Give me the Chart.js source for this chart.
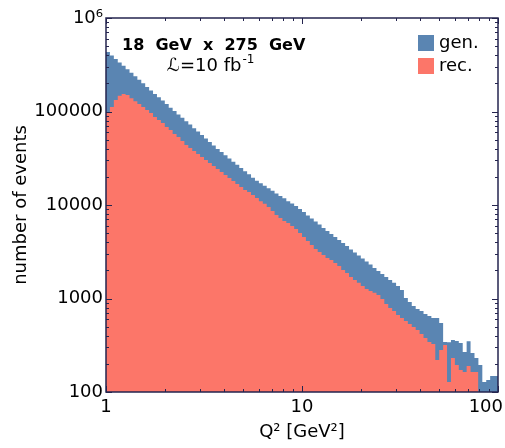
<!DOCTYPE html>
<html>
<head>
<meta charset="utf-8">
<script src="https://cdn.jsdelivr.net/npm/chart.js@4.4.0/dist/chart.umd.min.js"></script>
<style>
  body { margin: 0; background: #fff; }
  #chart { display: block; }
</style>
</head>
<body>
<canvas id="chart" width="505" height="448"></canvas>
<script>
'use strict';

// Q^2 histogram: 100 log-spaced bins between 1 and 100 GeV^2
var binMin = 1;
var binMax = 100;
var nBins = 100;

var genCounts = [
  472000, 434000, 398000, 365000, 335000, 308000, 283000, 259000, 238000, 218000,
  200000, 183000, 168000, 154000, 142000, 131000, 120000, 110000, 101000, 93100,
  85500, 78500, 72400, 66200, 61000, 56000, 51300, 47200, 43300, 39800,
  36800, 34000, 31500, 29100, 26900, 24900, 23000, 21300, 19600, 18200,
  17100, 16100, 15100, 14200, 13300, 12500, 11800, 11000, 10400, 9750,
  9060, 8410, 7720, 7180, 6660, 6180, 5680, 5270, 4900, 4550,
  4220, 3920, 3640, 3340, 3100, 2880, 2680, 2490, 2310, 2120,
  1970, 1830, 1700, 1580, 1470, 1360, 1230, 1010, 918, 831,
  773, 735, 682, 650, 618, 620, 547, 343, 340, 360,
  351, 334, 268, 350, 261, 231, 194, 128, 134, 148
];

var recCounts = [
  85100, 96400, 112000, 133000, 147000, 154000, 150000, 139000, 129000, 120000,
  112000, 104000, 96400, 87300, 81100, 75300, 68200, 63400, 57400, 53300,
  48300, 43900, 40700, 37800, 35100, 32600, 30300, 28100, 26100, 24300,
  22500, 20900, 19500, 18100, 16800, 15600, 14500, 13800, 12800, 11900,
  11000, 10300, 9520, 8630, 7820, 7260, 6750, 6420, 5960, 5530,
  5020, 4550, 4120, 3730, 3380, 3140, 2920, 2710, 2580, 2400,
  2230, 2020, 1870, 1700, 1580, 1470, 1360, 1260, 1200, 1150,
  1090, 988, 873, 791, 735, 666, 618, 574, 534, 495,
  460, 417, 378, 343, 326, 220, 281, 318, 128, 231,
  194, 172, 164, 190, 164
];

var xTickValues = [1, 10, 100];
var xTickLabels = ['1', '10', '100'];
var yTickValues = [100, 1000, 10000, 100000, 1000000];
var yTickLabels = ['100', '1000', '10000', '100000', '10\u2076'];

var genColor = '#5a85b2';
var recColor = '#fc7669';
var axisColor = '#25254f';
var fontFamily = '"DejaVu Sans", sans-serif';

function binEdge(i) {
  return binMin * Math.pow(binMax / binMin, i / nBins);
}

function stepPoints(counts) {
  var pts = [];
  for (var i = 0; i < counts.length; i++) {
    pts.push({x: binEdge(i), y: counts[i]});
  }
  pts.push({x: binEdge(counts.length), y: counts[counts.length - 1]});
  return pts;
}

// 1..9 x 10^n between lo and hi, for the small tick marks
function logTicks(lo, hi) {
  var t = [];
  for (var p = lo; p < hi; p *= 10) {
    for (var d = 1; d < 10; d++) {
      t.push(p * d);
    }
  }
  t.push(hi);
  return t;
}

var framePlugin = {
  id: 'frame',
  afterDatasetsDraw: function(chart) {
    var ctx = chart.ctx;
    var a = chart.chartArea;
    var xs = chart.scales.x;
    var ys = chart.scales.y;

    ctx.save();
    ctx.strokeStyle = axisColor;
    ctx.lineWidth = 1;
    ctx.beginPath();
    logTicks(binMin, binMax).forEach(function(v) {
      var len = xTickValues.indexOf(v) >= 0 ? 6 : 3;
      var px = Math.round(xs.getPixelForValue(v)) + 0.5;
      ctx.moveTo(px, a.bottom);
      ctx.lineTo(px, a.bottom - len);
      ctx.moveTo(px, a.top);
      ctx.lineTo(px, a.top + len);
    });
    logTicks(100, 1000000).forEach(function(v) {
      var len = yTickValues.indexOf(v) >= 0 ? 6 : 3;
      var py = Math.round(ys.getPixelForValue(v)) + 0.5;
      ctx.moveTo(a.left, py);
      ctx.lineTo(a.left + len, py);
      ctx.moveTo(a.right, py);
      ctx.lineTo(a.right - len, py);
    });
    ctx.stroke();

    ctx.lineWidth = 1.5;
    ctx.strokeRect(a.left, a.top, a.right - a.left, a.bottom - a.top);
    ctx.restore();
  },
  afterDraw: function(chart) {
    var ctx = chart.ctx;
    var xs = chart.scales.x;
    var w = chart.width;

    ctx.save();
    ctx.fillStyle = '#000';
    ctx.textBaseline = 'middle';
    ctx.textAlign = 'center';
    ctx.font = '18px ' + fontFamily;
    // x tick labels, kept inside the canvas
    for (var i = 0; i < xTickValues.length; i++) {
      var tw = ctx.measureText(xTickLabels[i]).width;
      var px = Math.min(xs.getPixelForValue(xTickValues[i]), w - 2 - tw / 2);
      ctx.fillText(xTickLabels[i], px, 407);
    }

    // beam energies and luminosity
    ctx.textAlign = 'left';
    ctx.textBaseline = 'alphabetic';
    ctx.font = 'bold 16px ' + fontFamily;
    ctx.fillText('18  GeV  x  275  GeV', 122, 50);
    ctx.font = '18px ' + fontFamily;
    var lumi = '\u2112=10 fb';
    ctx.fillText(lumi, 167, 71);
    var lw = ctx.measureText(lumi).width;
    ctx.font = '12px ' + fontFamily;
    ctx.fillText('-1', 167 + lw + 1, 63);

    // legend
    ctx.font = '18px ' + fontFamily;
    ctx.textBaseline = 'middle';
    ctx.fillStyle = genColor;
    ctx.fillRect(418, 35, 16, 16);
    ctx.fillStyle = recColor;
    ctx.fillRect(418, 58, 16, 16);
    ctx.fillStyle = '#000';
    ctx.fillText('gen.', 439, 43);
    ctx.fillText('rec.', 439, 66);
    ctx.restore();
  }
};

var ctx = document.getElementById('chart').getContext('2d');

var chart = new Chart(ctx, {
  type: 'line',
  data: {
    datasets: [
      {
        label: 'rec.',
        data: stepPoints(recCounts),
        stepped: 'after',
        fill: 'start',
        backgroundColor: recColor,
        borderColor: 'transparent',
        borderWidth: 0,
        pointRadius: 0,
        order: 0
      },
      {
        label: 'gen.',
        data: stepPoints(genCounts),
        stepped: 'after',
        fill: 'start',
        backgroundColor: genColor,
        borderColor: 'transparent',
        borderWidth: 0,
        pointRadius: 0,
        order: 1
      }
    ]
  },
  options: {
    responsive: false,
    animation: false,
    layout: {
      padding: {left: 0, top: 18, right: 7, bottom: 0},
      autoPadding: false
    },
    plugins: {
      legend: {display: false},
      tooltip: {enabled: false}
    },
    scales: {
      x: {
        type: 'logarithmic',
        min: binMin,
        max: binMax,
        grid: {display: false, drawTicks: false},
        border: {display: false},
        ticks: {display: false},
        title: {
          display: true,
          text: 'Q\u00b2 [GeV\u00b2]',
          color: '#000',
          font: {family: fontFamily, size: 18},
          padding: {top: 0, bottom: 5}
        },
        afterFit: function(scale) {
          scale.height = 56;
        }
      },
      y: {
        type: 'logarithmic',
        min: 100,
        max: 1000000,
        grid: {display: false, drawTicks: false},
        border: {display: false},
        ticks: {
          color: '#000',
          font: {family: fontFamily, size: 18},
          padding: 3,
          callback: function(value) {
            var i = yTickValues.indexOf(value);
            return i >= 0 ? yTickLabels[i] : '';
          }
        },
        afterBuildTicks: function(scale) {
          scale.ticks = yTickValues.map(function(v) { return {value: v}; });
        },
        title: {
          display: true,
          text: 'number of events',
          color: '#000',
          font: {family: fontFamily, size: 18},
          padding: {top: 11, bottom: 0}
        },
        afterFit: function(scale) {
          scale.width = 106;
        }
      }
    }
  },
  plugins: [framePlugin]
});
</script>
</body>
</html>
